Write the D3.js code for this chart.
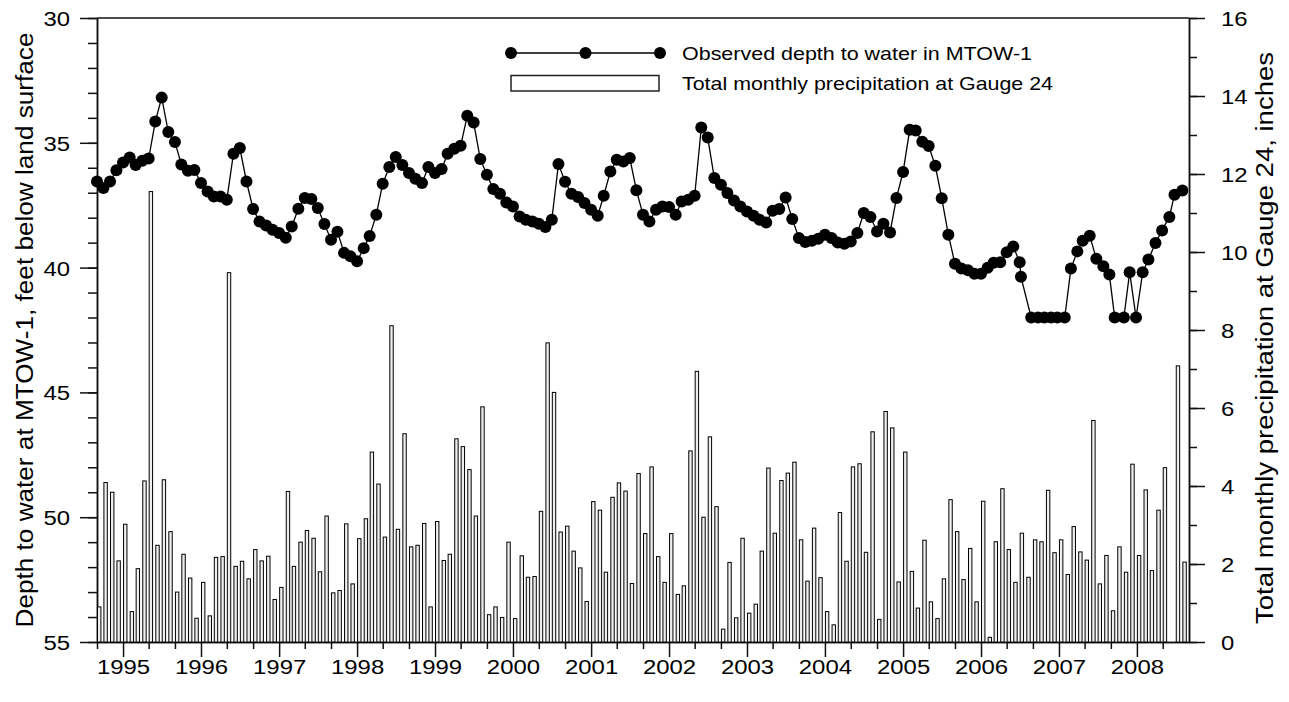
<html>
<head>
  <title>MTOW-1 depth to water and Gauge 24 precipitation</title>
  <script src="https://d3js.org/d3.v7.min.js"></script>
  <style>
    body{ margin:0; background:#fff; }
    text{ font-family:"Liberation Sans", Arial, sans-serif; fill:#000; }
    .axis path, .axis line{ stroke:#111; stroke-width:1.5; }
    #bars rect{ fill:#eeeeee; stroke:#000; stroke-width:1; }
    #depth path{ fill:none; stroke:#000; stroke-width:1.3; }
    #depth circle{ fill:#000; }
  </style>
</head>
<body>
  <script>
// monthly precipitation at Gauge 24, inches, Sep 1994 - Aug 2008
var precipStart = "1994-09";
var precip = [
  0.90, 4.09, 3.84, 2.08,
  3.02, 0.78, 1.88, 4.13, 11.55, 2.48, 4.16, 2.83, 1.28, 2.25, 1.64, 0.61,
  1.53, 0.67, 2.17, 2.19, 9.47, 1.94, 2.07, 1.62, 2.37, 2.08, 2.20, 1.09,
  1.40, 3.86, 1.94, 2.56, 2.86, 2.66, 1.80, 3.23, 1.26, 1.32, 3.03, 1.49,
  2.65, 3.16, 4.87, 4.05, 2.69, 8.11, 2.89, 5.34, 2.44, 2.48, 3.04, 0.90,
  3.09, 2.09, 2.25, 5.21, 5.01, 4.42, 3.23, 6.03, 0.70, 0.90, 0.63, 2.56,
  0.60, 2.21, 1.66, 1.68, 3.35, 7.67, 6.40, 2.82, 2.97, 2.33, 1.90, 1.04,
  3.60, 3.38, 1.79, 3.71, 4.08, 3.87, 1.50, 4.32, 2.78, 4.49, 2.19, 1.53,
  2.78, 1.22, 1.44, 4.90, 6.94, 3.20, 5.26, 3.47, 0.33, 2.04, 0.62, 2.66,
  0.74, 0.97, 2.33, 4.46, 2.79, 4.14, 4.33, 4.61, 2.62, 1.56, 2.92, 1.65,
  0.78, 0.44, 3.32, 2.07, 4.49, 4.57, 2.30, 5.39, 0.58, 5.91, 5.49, 1.54,
  4.87, 1.81, 0.87, 2.61, 1.03, 0.60, 1.62, 3.65, 2.83, 1.60, 2.40, 1.03,
  3.61, 0.12, 2.57, 3.93, 2.37, 1.53, 2.79, 1.66, 2.62, 2.57, 3.89, 2.29,
  2.62, 1.73, 2.96, 2.31, 2.10, 5.68, 1.49, 2.22, 0.80, 2.44, 1.79, 4.56,
  2.22, 3.90, 1.83, 3.38, 4.47, null, 7.08, 2.05
];

// observed depth to water in MTOW-1, feet below land surface
var obsDates = [
  "1994-09","1994-10","1994-11","1994-12",
  "1995-01","1995-02","1995-03","1995-04","1995-05","1995-06","1995-07","1995-08","1995-09","1995-10","1995-11","1995-12",
  "1996-01","1996-02","1996-03","1996-04","1996-05","1996-06","1996-07","1996-08","1996-09","1996-10","1996-11","1996-12",
  "1997-01","1997-02","1997-03","1997-04","1997-05","1997-06","1997-07","1997-08","1997-09","1997-10","1997-11","1997-12",
  "1998-01","1998-02","1998-03","1998-04","1998-05","1998-06","1998-07","1998-08","1998-09","1998-10","1998-11","1998-12",
  "1999-01","1999-02","1999-03","1999-04","1999-05","1999-06","1999-07","1999-08","1999-09","1999-10","1999-11","1999-12",
  "2000-01","2000-02","2000-03","2000-04","2000-05","2000-06","2000-07","2000-08","2000-09","2000-10","2000-11","2000-12",
  "2001-01","2001-02","2001-03","2001-04","2001-05","2001-06","2001-07","2001-08","2001-09","2001-10","2001-11","2001-12",
  "2002-01","2002-02","2002-03","2002-04","2002-05","2002-06","2002-07","2002-08","2002-09","2002-10","2002-11","2002-12",
  "2003-01","2003-02","2003-03","2003-04","2003-05","2003-06","2003-07","2003-08","2003-09","2003-10","2003-11","2003-12",
  "2004-01","2004-02","2004-03","2004-04","2004-05","2004-06","2004-07","2004-08","2004-09","2004-10","2004-11","2004-12",
  "2005-01","2005-02","2005-03","2005-04","2005-05","2005-06","2005-07","2005-08","2005-09","2005-10","2005-11","2005-12",
  "2006-01","2006-02","2006-03","2006-04","2006-05","2006-06","2006-07","2006-07-07",
  "2006-08-24","2006-09-25","2006-10-25","2006-11-25","2006-12-25","2007-01-28",
  "2007-02-26","2007-03-28","2007-04-22","2007-05-25","2007-06-25","2007-07-28","2007-08-25",
  "2007-09-19","2007-11-01","2007-11-28","2007-12-28","2008-01-28","2008-02-24",
  "2008-03-28","2008-04-28","2008-06-01","2008-06-25","2008-08-01"
];
var depth = [
  36.55, 36.81, 36.55, 36.10,
  35.79, 35.59, 35.89, 35.72, 35.63, 34.15, 33.19, 34.57, 34.97, 35.87, 36.12, 36.09,
  36.61, 36.95, 37.15, 37.15, 37.28, 35.44, 35.21, 36.55, 37.65, 38.15, 38.31, 38.48,
  38.61, 38.80, 38.35, 37.64, 37.21, 37.25, 37.61, 38.25, 38.88, 38.56, 39.41, 39.55,
  39.75, 39.22, 38.73, 37.88, 36.64, 35.97, 35.57, 35.89, 36.21, 36.44, 36.61, 35.97,
  36.21, 36.05, 35.44, 35.24, 35.12, 33.92, 34.19, 35.65, 36.28, 36.85, 37.04, 37.39,
  37.55, 37.95, 38.08, 38.15, 38.24, 38.37, 38.08, 35.85, 36.56, 37.04, 37.17, 37.41,
  37.68, 37.92, 37.12, 36.15, 35.68, 35.75, 35.61, 36.90, 37.88, 38.15, 37.68, 37.55,
  37.57, 37.88, 37.35, 37.28, 37.12, 34.39, 34.79, 36.41, 36.68, 37.01, 37.31, 37.55,
  37.75, 37.92, 38.08, 38.19, 37.72, 37.65, 37.19, 38.05, 38.81, 38.97, 38.92, 38.84,
  38.68, 38.81, 38.99, 39.04, 38.95, 38.61, 37.81, 37.97, 38.55, 38.24, 38.59, 37.21,
  36.17, 34.48, 34.51, 34.96, 35.13, 35.92, 37.22, 38.68, 39.85, 40.04, 40.11, 40.25,
  40.25, 40.01, 39.81, 39.79, 39.39, 39.15, 39.79, 40.37,
  42.0, 42.0, 42.0, 42.0, 42.0, 42.0,
  40.04, 39.35, 38.92, 38.72, 39.65, 39.95, 40.28,
  42.0, 42.0, 40.19, 42.0, 40.19, 39.68,
  39.01, 38.51, 37.97, 37.08, 36.91
];

var depthTicks = [30, 35, 40, 45, 50, 55];
var precipTicks = [0, 2, 4, 6, 8, 10, 12, 14, 16];
var yearLabels = ["1995","1996","1997","1998","1999","2000","2001","2002","2003","2004","2005","2006","2007","2008"];

var legendLabels = ["Observed depth to water in MTOW-1", "Total monthly precipitation at Gauge 24"];
var leftTitle = "Depth to water at MTOW-1, feet below land surface";
var rightTitle = "Total monthly precipitation at Gauge 24, inches";

var width = 1289,
    height = 702;
var plotL = 97, plotR = 1189, plotT = 18, plotB = 642;

var svg = d3.select( "body" )
  .append( "svg" )
  .attr( "width", width )
  .attr( "height", height );

var parseMonth = d3.timeParse("%Y-%m"),
    parseDay = d3.timeParse("%Y-%m-%d");
function parseDate(s){ return s.length > 7 ? parseDay(s) : parseMonth(s); }

var start = parseMonth(precipStart);
var months = d3.timeMonth.range(start, d3.timeMonth.offset(start, precip.length));
var end = d3.timeMonth.offset(start, precip.length);

var x = d3.scaleTime().domain([start, end]).range([plotL, plotR]);
var yDepth = d3.scaleLinear().domain([30, 55]).range([plotT, plotB]);
var yPrecip = d3.scaleLinear().domain([0, 16]).range([plotB, plotT]);

var stretch = "scale(1.14,1)";

// axes
var gLeftMinor = svg.append("g").attr("class", "axis")
  .attr("transform", "translate(" + plotL + ",0)")
  .call(d3.axisLeft(yDepth).tickValues(d3.range(30, 56)).tickSize(9).tickSizeOuter(0).tickFormat(""));
var gLeft = svg.append("g").attr("class", "axis")
  .attr("transform", "translate(" + plotL + ",0)")
  .call(d3.axisLeft(yDepth).tickValues(depthTicks).tickSize(17).tickSizeOuter(0));
gLeft.selectAll("text")
  .attr("x", null).attr("dy", "0.36em")
  .attr("transform", "translate(-27,0) " + stretch);

var gRightMinor = svg.append("g").attr("class", "axis")
  .attr("transform", "translate(" + plotR + ",0)")
  .call(d3.axisRight(yPrecip).tickValues(d3.range(0, 17)).tickSize(8).tickSizeOuter(0).tickFormat(""));
var gRight = svg.append("g").attr("class", "axis")
  .attr("transform", "translate(" + plotR + ",0)")
  .call(d3.axisRight(yPrecip).tickValues(precipTicks).tickSize(16).tickSizeOuter(0));
gRight.selectAll("text")
  .attr("x", null).attr("dy", "0.36em")
  .attr("transform", "translate(32,0) " + stretch);

var yearDates = yearLabels.map(function(y){ return new Date(+y, 0, 1); });
var minorMonths = d3.timeMonth.every(4).range(start, end).filter(function(d){ return d.getMonth() !== 0; });

svg.append("g").attr("class", "axis")
  .attr("transform", "translate(0," + plotB + ")")
  .call(d3.axisBottom(x).tickValues(minorMonths).tickSize(7).tickSizeOuter(0).tickFormat(""));
var gBottom = svg.append("g").attr("class", "axis")
  .attr("transform", "translate(0," + plotB + ")")
  .call(d3.axisBottom(x).tickValues(yearDates).tickSize(15).tickSizeOuter(0)
    .tickFormat(function(d, i){ return yearLabels[i]; }));
gBottom.selectAll("text")
  .attr("y", null).attr("dy", null)
  .attr("transform", "translate(0,32) " + stretch);

svg.selectAll(".axis").attr("font-size", 21).attr("font-family", null);

svg.append("line")
  .attr("x1", plotL).attr("x2", plotR)
  .attr("y1", plotT).attr("y2", plotT)
  .attr("stroke", "#111").attr("stroke-width", 1.5);

// precipitation bars
var bars = svg.append("g").attr("id", "bars");
bars.selectAll("rect")
  .data(precip.map(function(v, i){ return {date: months[i], value: v}; })
    .filter(function(d){ return d.value != null; }))
  .enter()
  .append("rect")
  .attr("x", function(d){ return x(d.date) + 0.5; })
  .attr("width", 3.4)
  .attr("y", function(d){ return yPrecip(d.value); })
  .attr("height", function(d){ return yPrecip(0) - yPrecip(d.value); });

// depth to water
var obs = obsDates.map(function(s, i){ return {date: parseDate(s), value: depth[i]}; });
var depthG = svg.append("g").attr("id", "depth");
depthG.append("path")
  .datum(obs)
  .attr("d", d3.line()
    .x(function(d){ return x(d.date); })
    .y(function(d){ return yDepth(d.value); }));
depthG.selectAll("circle")
  .data(obs)
  .enter()
  .append("circle")
  .attr("cx", function(d){ return x(d.date); })
  .attr("cy", function(d){ return yDepth(d.value); })
  .attr("r", 6);

// legend
var legend = svg.append("g").attr("id", "legend");
legend.append("line")
  .attr("x1", 511).attr("x2", 660).attr("y1", 53).attr("y2", 53)
  .attr("stroke", "#000").attr("stroke-width", 1.3);
legend.selectAll("circle")
  .data([511, 585.5, 660])
  .enter()
  .append("circle")
  .attr("cx", function(d){ return d; })
  .attr("cy", 53)
  .attr("r", 6)
  .attr("fill", "#000");
legend.append("rect")
  .attr("x", 511).attr("y", 75.5).attr("width", 148).attr("height", 15.5)
  .attr("fill", "#fff").attr("stroke", "#222").attr("stroke-width", 1.5);
legend.selectAll("text")
  .data(legendLabels)
  .enter()
  .append("text")
  .attr("x", 682)
  .attr("y", function(d, i){ return i === 0 ? 60 : 90; })
  .attr("font-size", 18.5)
  .attr("textLength", function(d, i){ return i === 0 ? 350 : 371; })
  .attr("lengthAdjust", "spacingAndGlyphs")
  .text(function(d){ return d; });

// axis titles
svg.append("text")
  .attr("transform", "translate(33,330) rotate(-90)")
  .attr("text-anchor", "middle")
  .attr("font-size", 23)
  .attr("textLength", 595)
  .attr("lengthAdjust", "spacingAndGlyphs")
  .text(leftTitle);

svg.append("text")
  .attr("transform", "translate(1273,338) rotate(-90)")
  .attr("text-anchor", "middle")
  .attr("font-size", 23)
  .attr("textLength", 572)
  .attr("lengthAdjust", "spacingAndGlyphs")
  .text(rightTitle);
  </script>
</body>
</html>
